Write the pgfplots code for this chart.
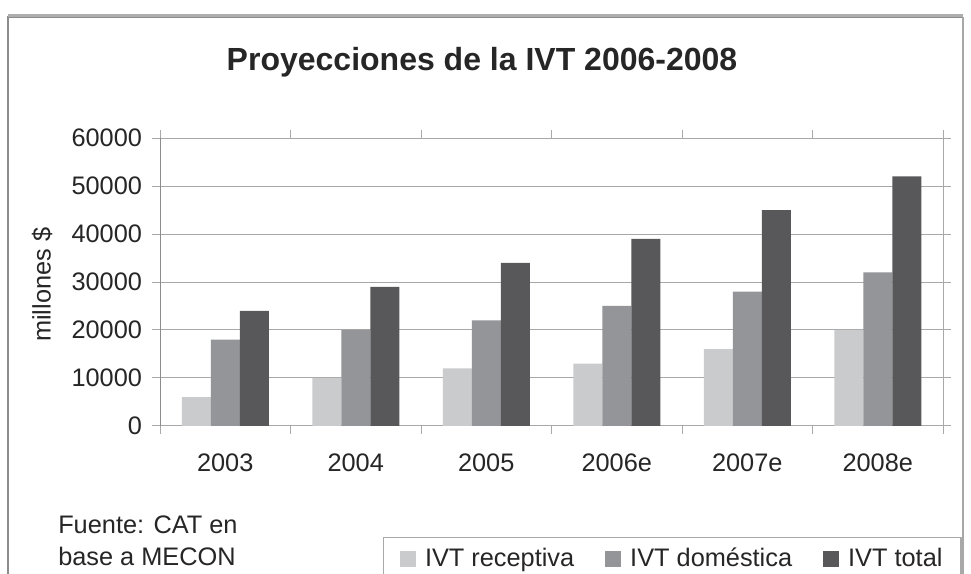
\documentclass[border=0pt]{standalone}
\usepackage{fontspec}
\setmainfont{Liberation Sans}
\usepackage{pgfplots}
\pgfplotsset{compat=1.18}
\definecolor{crec}{HTML}{C9CBCD}
\definecolor{cdom}{HTML}{939598}
\definecolor{ctot}{HTML}{58585A}
\definecolor{cgrid}{HTML}{A8A8A8}
\definecolor{cframe}{HTML}{8C8C8C}
\pgfplotsset{sqlegend/.style={legend image code/.code={\fill[##1] (0pt,-6pt) rectangle (12pt,6pt);}}}
\begin{document}
\begin{tikzpicture}[x=0.75pt,y=0.75pt]
\useasboundingbox (0,0) rectangle (971,574);
\coordinate (O) at (160,148);
\begin{scope}
\clip (0,0) rectangle (971,574);
\fill[white] (0,0) rectangle (971,574);
\draw[cframe, line width=1.5pt] (8,-20) -- (8,557) -- (963,557);
\draw[cgrid, line width=1pt] (963,557) -- (963,-20);
\draw[cframe!70, line width=2pt] (8,558.5) -- (963,558.5);
\begin{axis}[
  at={(O)}, anchor=south west, scale only axis,
  width=587.25pt, height=216pt,
  ybar=0pt, bar width=21.75pt,
  xmin=-0.5, xmax=5.5, ymin=0, ymax=60000,
  xtick={0,...,5}, xticklabels={2003,2004,2005,2006e,2007e,2008e},
  minor xtick={-0.5,0.5,...,5.5},
  ytick={0,10000,...,60000},
  scaled y ticks=false,
  tick align=outside,
  major tick length=6pt, minor tick length=6pt,
  major x tick style={draw=none},
  minor x tick style={draw=cgrid, line width=0.75pt},
  major y tick style={draw=cgrid, line width=0.75pt},
  ymajorgrids, grid style={cgrid, line width=0.75pt},
  axis line style={draw=cgrid, line width=0.75pt},
  tick label style={font=\fontsize{19}{22}\selectfont, text=black!85},
  /pgf/number format/.cd, fixed, 1000 sep={}, assume math mode=true, /pgfplots/.cd,
  yticklabel style={xshift=-4pt},
  xticklabel style={yshift=-11pt},
  ylabel={millones \$},
  ylabel style={at={(axis description cs:-0.1507,0.49)}, anchor=center, font=\fontsize{19}{22}\selectfont, text=black!85},
  legend columns=3,
  legend style={at={(axis description cs:0.2848,-0.3854)}, anchor=north west,
    draw=cgrid, line width=1pt, font=\fontsize{19}{22}\selectfont, text=black!85,
    inner xsep=12pt, inner ysep=6pt,
    column sep=5pt,
    /tikz/every even column/.append style={column sep=21pt}},
]
\draw[cframe, line width=1pt] (rel axis cs:0,0) -- (rel axis cs:0,1);
\addplot[draw=none, fill=crec, sqlegend] coordinates {(0,6000) (1,10000) (2,12000) (3,13000) (4,16000) (5,20000)};
\addplot[draw=none, fill=cdom, sqlegend] coordinates {(0,18000) (1,20000) (2,22000) (3,25000) (4,28000) (5,32000)};
\addplot[draw=none, fill=ctot, sqlegend] coordinates {(0,24000) (1,29000) (2,34000) (3,39000) (4,45000) (5,52000)};
\legend{IVT receptiva, IVT doméstica, IVT total}
\end{axis}
\node[font=\fontsize{24}{28}\selectfont\bfseries, text=black!85] at (482,512) {Proyecciones de la IVT 2006-2008};
\node[anchor=west, align=left, inner sep=0pt, font=\fontsize{19}{24}\selectfont, text=black!85] at (58,33) {Fuente: CAT en\\base a MECON};
\end{scope}
\end{tikzpicture}
\end{document}
